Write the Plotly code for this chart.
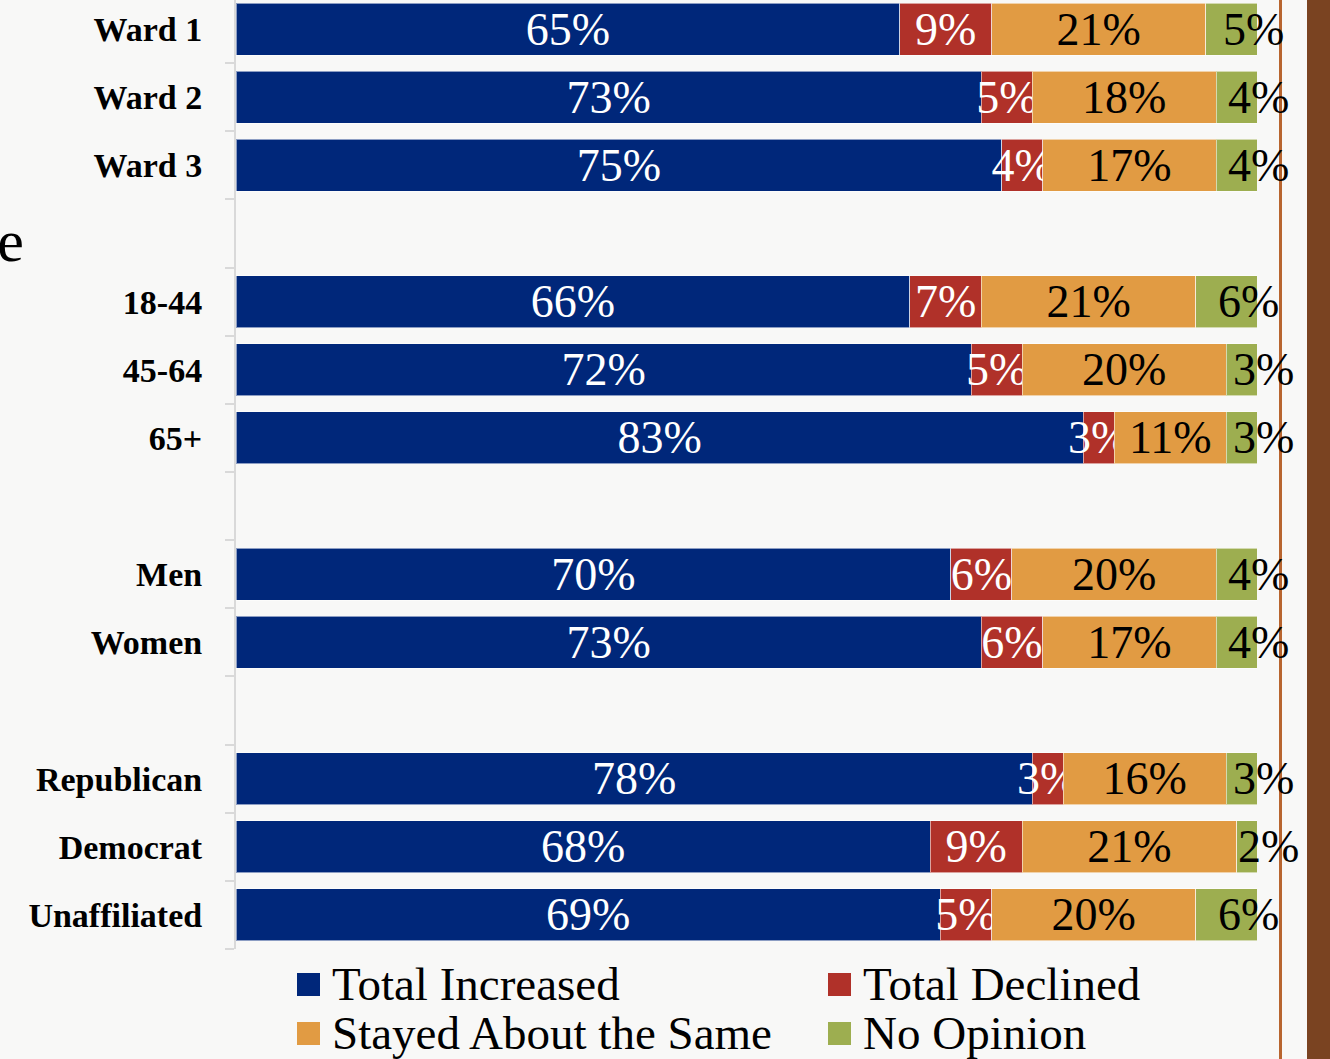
import plotly.graph_objects as go

# Survey groups (blank entries are the spacer rows between groups)
categories = ["Ward 1", "Ward 2", "Ward 3", "",
              "18-44", "45-64", "65+", "",
              "Men", "Women", "",
              "Republican", "Democrat", "Unaffiliated"]

increased = [65, 73, 75, None, 66, 72, 83, None, 70, 73, None, 78, 68, 69]
declined = [9, 5, 4, None, 7, 5, 3, None, 6, 6, None, 3, 9, 5]
same = [21, 18, 17, None, 21, 20, 11, None, 20, 17, None, 16, 21, 20]
no_opinion = [5, 4, 4, None, 6, 3, 3, None, 4, 4, None, 3, 2, 6]

series_names = ["Total Increased", "Total Declined",
                "Stayed About the Same", "No Opinion"]

COLORS = ["#00277A", "#B03129", "#E19B43", "#9DAE50"]
TEXT_COLORS = ["white", "white", "black", "black"]
BG = "#F8F8F7"
SERIF = "Liberation Serif"
LABEL_SIZE = 46

W, H = 1330, 1059
L, R, T, B = 236, 73, 0, 110
PW, PH = W - L - R, H - T - B


def px_x(px):
    return (px - L) / PW


def px_y(py):
    return (PH - (py - T)) / PH


y_pos = list(range(len(categories)))
all_series = [increased, declined, same, no_opinion]

fig = go.Figure()
for k, (name, vals, color, tcolor) in enumerate(zip(series_names, all_series,
                                                    COLORS, TEXT_COLORS)):
    last = k == len(all_series) - 1
    fig.add_trace(go.Bar(
        name=name,
        y=y_pos,
        x=vals,
        orientation="h",
        marker=dict(color=color, line=dict(color="rgba(255,255,255,0.55)", width=1)),
        # the small "No Opinion" labels sit off-centre, so they are added below
        text=None if last else [f"{v}%" if v is not None else "" for v in vals],
        textposition="inside",
        insidetextanchor="middle",
        textangle=0,
        textfont=dict(family=SERIF, size=LABEL_SIZE, color=tcolor),
        showlegend=False,
    ))

# No Opinion labels: centred on the segment, nudged right as in the original
for i, v in enumerate(no_opinion):
    if v is None:
        continue
    start = sum(s[i] for s in all_series[:-1])
    fig.add_annotation(x=start + v / 2, y=y_pos[i], xref="x", yref="y",
                       text=f"{v}%", showarrow=False, xshift=22,
                       font=dict(family=SERIF, size=LABEL_SIZE, color="black"))

fig.update_layout(
    barmode="stack",
    bargap=0.237,
    width=W, height=H,
    margin=dict(l=L, r=R, t=T, b=B, autoexpand=False),
    paper_bgcolor=BG,
    plot_bgcolor=BG,
    uniformtext=dict(minsize=LABEL_SIZE, mode="show"),
    font=dict(family=SERIF, color="black"),
)

fig.update_xaxes(range=[0, 100], visible=False, automargin=False)
fig.update_yaxes(
    automargin=False,
    range=[len(categories) - 0.5, -0.426],
    tickmode="array",
    tickvals=y_pos,
    ticktext=[f"<b>{c}</b>" for c in categories],
    tickfont=dict(family=SERIF, size=34, color="black"),
    ticks="",
    ticklabelstandoff=25,
    showgrid=False,
    zeroline=False,
    showline=True,
    linecolor="#D9D9D9",
    linewidth=2,
    minor=dict(
        tickmode="array",
        tickvals=[i - 0.5 for i in range(len(categories) + 1)],
        ticks="outside",
        ticklen=9,
        tickcolor="#D9D9D9",
        tickwidth=2,
        showgrid=False,
    ),
)

# Page decorations on the right edge (slide frame)
fig.add_shape(type="rect", xref="paper", yref="paper", layer="below",
              x0=px_x(1307), x1=px_x(1332), y0=px_y(1060), y1=px_y(-2),
              fillcolor="#7A4321", line_width=0)
fig.add_shape(type="line", xref="paper", yref="paper", layer="below",
              x0=px_x(1280.5), x1=px_x(1280.5), y0=px_y(1060), y1=px_y(-2),
              line=dict(color="#B8652F", width=3))

# Cut-off group heading on the left edge
fig.add_annotation(text="Age", xref="paper", yref="paper",
                   x=px_x(26), y=px_y(241), xanchor="right", yanchor="middle",
                   showarrow=False, font=dict(family=SERIF, size=60, color="black"))

# Legend drawn manually: 2 x 2 grid with large square swatches
legend_cols = [297, 828]
legend_rows = [984, 1033]
for i, (name, color) in enumerate(zip(series_names, COLORS)):
    cx = legend_cols[i % 2]
    cy = legend_rows[i // 2]
    fig.add_shape(type="rect", xref="paper", yref="paper",
                  x0=px_x(cx), x1=px_x(cx + 23), y0=px_y(cy + 12), y1=px_y(cy - 11),
                  fillcolor=color, line_width=0)
    fig.add_annotation(text=name, xref="paper", yref="paper",
                       x=px_x(cx + 33), y=px_y(cy), xanchor="left", yanchor="middle",
                       showarrow=False, font=dict(family=SERIF, size=47, color="black"))

fig.write_html("out.html", config={"displayModeBar": False},
               post_script="document.body.style.margin='0';")
